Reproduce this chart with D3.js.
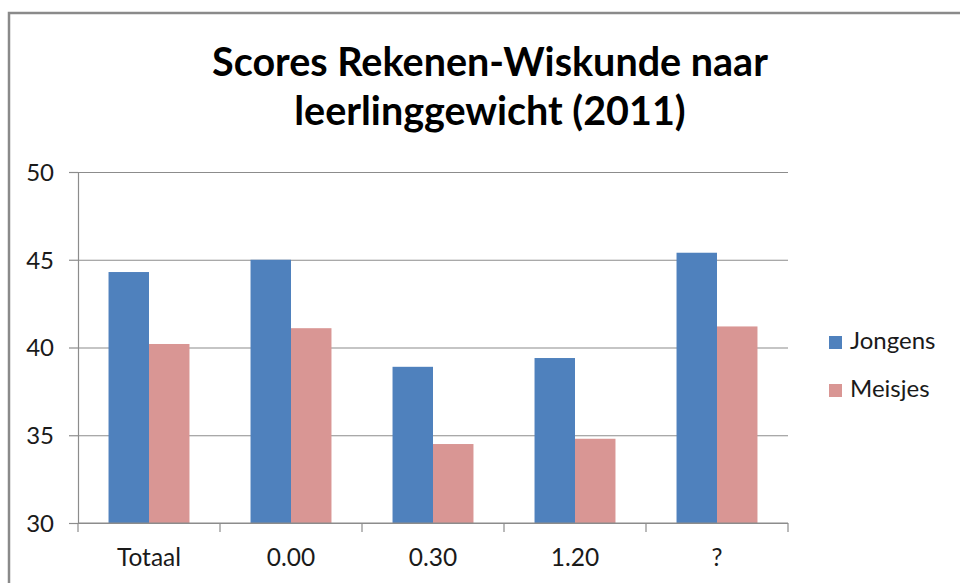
<!DOCTYPE html>
<html>
<head>
<meta charset="utf-8">
<script src="https://cdn.jsdelivr.net/npm/d3@7"></script>
<style>
  body { margin: 0; background: #fff; }
  svg { display: block; font-family: Lato, "Open Sans", sans-serif; }
</style>
</head>
<body>
<svg width="960" height="583"></svg>
<script>
  // DATA
  var categories = ["Totaal", "0.00", "0.30", "1.20", "?"];
  var seriesNames = ["Jongens", "Meisjes"];
  var jongens = [44.3, 45.0, 38.9, 39.4, 45.4];
  var meisjes = [40.2, 41.1, 34.5, 34.8, 41.2];
  var yTicks = [30, 35, 40, 45, 50];
  var titleLines = ["Scores Rekenen-Wiskunde naar", "leerlinggewicht (2011)"];

  var colors = ["#4F81BD", "#D99694"];
  var gridColor = "#8c8c8c";

  // SETUP
  var svg = d3.select("svg"),
    margin = { top: 172, left: 78 },
    width = 710,
    height = 351;

  // chart border (runs off the right and bottom of the picture)
  svg.append("rect")
    .attr("x", 9).attr("y", 13)
    .attr("width", 1000).attr("height", 700)
    .attr("fill", "none")
    .attr("stroke", "#8a8a8a")
    .attr("stroke-width", 2.5);

  // title
  svg.append("text")
    .attr("x", 490)
    .attr("y", 76)
    .attr("text-anchor", "middle")
    .attr("font-weight", "bold")
    .attr("font-size", 39.5)
    .attr("fill", "#000")
    .selectAll("tspan")
    .data(titleLines)
    .enter().append("tspan")
      .attr("x", 490)
      .attr("dy", function (d, i) { return i ? 49 : 0; })
      .text(function (d) { return d; });

  var x0 = d3.scaleBand()
    .domain(categories)
    .range([0, width])
    .paddingInner(0.43)
    .paddingOuter(0.215);

  var x1 = d3.scaleBand()
    .domain(seriesNames)
    .range([0, x0.bandwidth()]);

  var y = d3.scaleLinear()
    .domain([30, 50])
    .range([height, 0]);

  var g = svg.append("g")
    .attr("transform", "translate(" + margin.left + "," + margin.top + ")");

  // gridlines
  g.append("g")
    .attr("class", "grid")
    .call(d3.axisLeft(y).tickValues(yTicks).tickSize(-width).tickFormat(""))
    .call(function (s) {
      s.select(".domain").remove();
      s.selectAll("line").attr("stroke", gridColor).attr("stroke-width", 1.2);
    });

  // bars
  var rows = categories.map(function (c, i) {
    return { cat: c, values: [jongens[i], meisjes[i]] };
  });

  g.selectAll(".group")
    .data(rows)
    .enter().append("g")
      .attr("class", "group")
      .attr("transform", function (d) { return "translate(" + x0(d.cat) + ",0)"; })
    .selectAll("rect")
    .data(function (d) { return d.values.map(function (v, i) { return { key: seriesNames[i], value: v, i: i }; }); })
    .enter().append("rect")
      .attr("x", function (d) { return x1(d.key); })
      .attr("y", function (d) { return y(d.value); })
      .attr("width", x1.bandwidth())
      .attr("height", function (d) { return height - y(d.value); })
      .attr("fill", function (d) { return colors[d.i]; });

  // y axis
  g.append("g")
    .attr("class", "axis axis--y")
    .call(d3.axisLeft(y).tickValues(yTicks).tickSize(9).tickSizeOuter(0).tickPadding(15))
    .call(function (s) {
      s.select(".domain").attr("stroke", gridColor).attr("stroke-width", 1.2);
      s.selectAll("line").attr("stroke", gridColor).attr("stroke-width", 1.2);
      s.selectAll("text")
        .attr("font-family", "Lato, sans-serif")
        .attr("font-size", 24)
        .attr("fill", "#1a1a1a")
        .attr("dy", "0.35em");
    });

  // x axis: line, boundary ticks, labels
  var half = (x0.step() - x0.bandwidth()) / 2;
  var bounds = categories.map(function (c) { return x0(c) - half; }).concat([width]);

  var xa = g.append("g")
    .attr("class", "axis axis--x")
    .attr("transform", "translate(0," + height + ")");

  xa.append("line")
    .attr("x1", 0).attr("x2", width)
    .attr("stroke", gridColor).attr("stroke-width", 1.2);

  xa.selectAll(".tick")
    .data(bounds)
    .enter().append("line")
      .attr("class", "tick")
      .attr("x1", function (d) { return d; })
      .attr("x2", function (d) { return d; })
      .attr("y1", 0).attr("y2", 9)
      .attr("stroke", gridColor).attr("stroke-width", 1.2);

  xa.selectAll(".label")
    .data(categories)
    .enter().append("text")
      .attr("class", "label")
      .attr("x", function (d) { return x0(d) + x0.bandwidth() / 2; })
      .attr("y", 43)
      .attr("text-anchor", "middle")
      .attr("font-size", 24.5)
      .attr("fill", "#1a1a1a")
      .text(function (d) { return d; });

  // legend
  var legend = svg.append("g")
    .attr("transform", "translate(829,336)");

  var item = legend.selectAll(".item")
    .data(seriesNames)
    .enter().append("g")
      .attr("class", "item")
      .attr("transform", function (d, i) { return "translate(0," + i * 48 + ")"; });

  item.append("rect")
    .attr("width", 13).attr("height", 13)
    .attr("fill", function (d, i) { return colors[i]; });

  item.append("text")
    .attr("x", 21)
    .attr("y", 13)
    .attr("font-size", 24)
    .attr("fill", "#1a1a1a")
    .text(function (d) { return d; });
</script>
</body>
</html>
